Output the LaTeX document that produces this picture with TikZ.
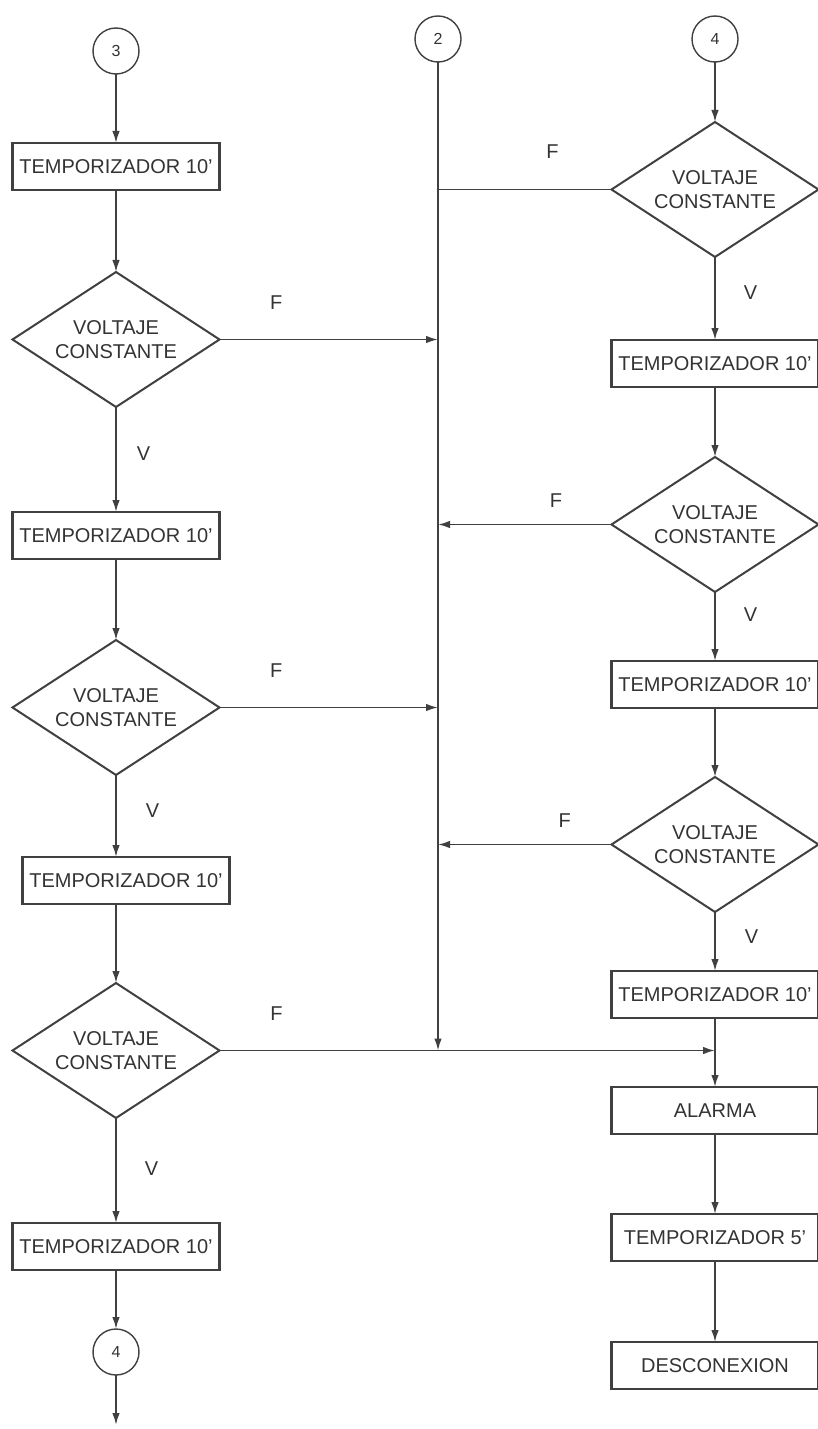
\documentclass[tikz,border=0pt]{standalone}
\usepackage{fontspec}
\setmainfont{Liberation Sans}
\usetikzlibrary{arrows.meta,positioning,shapes.geometric}

\begin{document}
\begin{tikzpicture}[
				every node/.style={font=\fontsize{10}{12}\selectfont,text=black!80},
				box/.style={
					draw=black!75,
					align=center,
					minimum width=103.5pt,
					minimum height=23.5pt,
					inner sep=2pt,
					outer sep=0pt,
					line width=1.1pt
				},
				decision/.style={
					draw=black!75,
					diamond,
					aspect=1.53,
					align=center,
					minimum width=103.5pt,
					minimum height=67.5pt,
					inner sep=0pt,
					outer sep=0pt,
					line width=1pt
				},
				connector/.style={
					draw=black!75,
					circle,
					minimum size=23pt,
					inner sep=0pt,
					outer sep=0pt,
					line width=0.7pt,
					font=\fontsize{8}{10}\selectfont
				},
				arrow/.style={
					-{Latex[length=6pt,width=3.8pt]},
					draw=black!75,
					line width=0.9pt
				},
				line/.style={draw=black!75,line width=0.9pt},
				lbl/.style={inner sep=0pt}
				]
				\useasboundingbox (0,0) rectangle (409pt,-714.5pt);
				
				% left column
				\node[connector] (c3) at (58pt,-25.5pt) {3};
				\node[box,below=34.5pt of c3] (t1) {TEMPORIZADOR 10'};
				\node[decision,below=41pt of t1] (d1) {VOLTAJE\\CONSTANTE};
				\node[box,below=52.5pt of d1] (t2) {TEMPORIZADOR 10'};
				\node[decision,below=40.5pt of t2] (d2) {VOLTAJE\\CONSTANTE};
				\node[box,below=41pt of d2,xshift=5pt] (t3) {TEMPORIZADOR 10'};
				\node[decision,below=39.5pt of t3,xshift=-5pt] (d3) {VOLTAJE\\CONSTANTE};
				\node[box,below=52.5pt of d3] (t4) {TEMPORIZADOR 10'};
				\node[connector,below=29.5pt of t4] (c4b) {4};
				\coordinate (fin) at ([yshift=-25pt]c4b.south);
				
				% middle line
				\node[connector] (c2) at (219pt,-19.5pt) {2};
				
				% right column
				\node[connector] (c4) at (357.5pt,-19.5pt) {4};
				\node[decision,below=30pt of c4] (r1) {VOLTAJE\\CONSTANTE};
				\node[box,below=41.5pt of r1] (rt1) {TEMPORIZADOR 10'};
				\node[decision,below=35pt of rt1] (r2) {VOLTAJE\\CONSTANTE};
				\node[box,below=34.5pt of r2] (rt2) {TEMPORIZADOR 10'};
				\node[decision,below=34.5pt of rt2] (r3) {VOLTAJE\\CONSTANTE};
				\node[box,below=29.5pt of r3] (rt3) {TEMPORIZADOR 10'};
				\node[box,below=34.5pt of rt3] (alarm) {ALARMA};
				\node[box,below=40pt of alarm] (t5) {TEMPORIZADOR 5'};
				\node[box,below=40.5pt of t5] (off) {DESCONEXION};
				
				\coordinate (m1) at (d1.east -| c2);
				\coordinate (m2) at (d2.east -| c2);
				\coordinate (jm) at (d3.east -| c2);
				\coordinate (jr) at (d3.east -| alarm);
				\coordinate (n1) at (r1.west -| c2);
				\coordinate (n2) at (r2.west -| c2);
				\coordinate (n3) at (r3.west -| c2);
				
				\draw[arrow] (c3) -- (t1);
				\draw[arrow] (t1) -- (d1);
				\draw[arrow] (d1) -- node[lbl,pos=0.44,right=10pt] {V} (t2);
				\draw[arrow] (t2) -- (d2);
				\draw[arrow] (d2) -- node[lbl,pos=0.43,right=14.5pt] {V} (d2.south |- t3.north);
				\draw[arrow] (t3.south -| d3.north) -- (d3);
				\draw[arrow] (d3) -- node[lbl,pos=0.48,right=14pt] {V} (t4);
				\draw[arrow] (t4) -- (c4b);
				\draw[arrow] (c4b.south) -- (fin);
				
				\draw[arrow] (c2) -- (jm);
				\draw[arrow] (d1.east) -- node[lbl,pos=0.26,above=14.4pt] {F} (m1);
				\draw[arrow] (d2.east) -- node[lbl,pos=0.26,above=14.4pt] {F} (m2);
				\draw[arrow] (d3.east) -- node[lbl,pos=0.115,above=14.4pt] {F} (jr);
				\draw[line] (r1.west) -- node[lbl,pos=0.34,above=15pt] {F} (n1);
				\draw[arrow] (r2.west) -- node[lbl,pos=0.32,above=8pt] {F} (n2);
				\draw[arrow] (r3.west) -- node[lbl,pos=0.27,above=8pt] {F} (n3);
				
				\draw[arrow] (c4) -- (r1);
				\draw[arrow] (r1) -- node[lbl,pos=0.43,right=14pt] {V} (rt1);
				\draw[arrow] (rt1) -- (r2);
				\draw[arrow] (r2) -- node[lbl,pos=0.33,right=14pt] {V} (rt2);
				\draw[arrow] (rt2) -- (r3);
				\draw[arrow] (r3) -- node[lbl,pos=0.42,right=14.5pt] {V} (rt3);
				\draw[arrow] (rt3) -- (alarm);
				\draw[arrow] (alarm) -- (t5);
				\draw[arrow] (t5) -- (off);
			\end{tikzpicture}
\end{document}
